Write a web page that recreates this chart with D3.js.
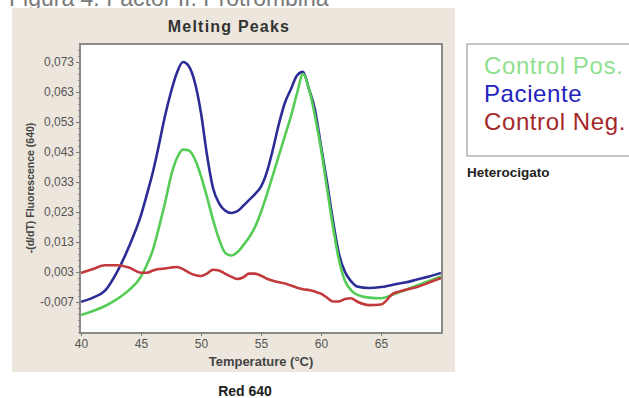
<!DOCTYPE html>
<html>
<head>
<meta charset="utf-8">
<script src="https://cdn.jsdelivr.net/npm/d3@7"></script>
<style>
  body { margin: 0; background: #fff; }
  svg { display: block; font-family: "Liberation Sans", Arial, sans-serif; }
</style>
</head>
<body>
<div id="chart"></div>
<script>
// temperatures (°C) sampled along the curves
const temps = [40, 41, 42, 43, 44, 45, 45.5, 46, 46.5, 47, 47.5, 48, 48.5, 49, 49.5, 50, 50.5, 51, 51.5, 52,
  52.5, 53, 53.5, 54, 54.5, 55, 55.5, 56, 56.5, 57, 57.5, 58, 58.5, 59, 59.5, 60, 60.5, 61, 61.5, 62,
  62.5, 63, 64, 65, 66, 67, 68, 69, 70];

const paciente = [-0.0069, -0.0055, -0.0032, 0.0030, 0.0115, 0.0220, 0.0290, 0.0365, 0.0455, 0.0550, 0.0630, 0.0695, 0.0730, 0.0715, 0.0660, 0.0560, 0.0420, 0.0310, 0.0260, 0.0235,
  0.0227, 0.0232, 0.0250, 0.0270, 0.0290, 0.0315, 0.0365, 0.0440, 0.0525, 0.0595, 0.0640, 0.0685, 0.0697, 0.0640, 0.0570, 0.0450, 0.0330, 0.0200, 0.0090, 0.0030,
  0.0000, -0.0018, -0.0023, -0.0020, -0.0012, -0.0005, 0.0005, 0.0015, 0.0027];

const controlPos = [-0.0113, -0.0100, -0.0083, -0.0060, -0.0030, 0.0015, 0.0055, 0.0105, 0.0180, 0.0260, 0.0350, 0.0410, 0.0438, 0.0435, 0.0405, 0.0350, 0.0280, 0.0205, 0.0140, 0.0095,
  0.0085, 0.0095, 0.0118, 0.0145, 0.0180, 0.0230, 0.0290, 0.0355, 0.0420, 0.0485, 0.0550, 0.0625, 0.0690, 0.0640, 0.0550, 0.0440, 0.0310, 0.0180, 0.0070, 0.0000,
  -0.0030, -0.0045, -0.0055, -0.0057, -0.0045, -0.0030, -0.0015, 0.0000, 0.0015];

const controlNeg = [0.0027, 0.0040, 0.0053, 0.0053, 0.0045, 0.0028, 0.0028, 0.0035, 0.0040, 0.0042, 0.0045, 0.0047, 0.0040, 0.0028, 0.0020, 0.0017, 0.0025, 0.0038, 0.0035, 0.0025,
  0.0015, 0.0007, 0.0012, 0.0025, 0.0025, 0.0018, 0.0008, 0.0001, -0.0004, -0.0008, -0.0015, -0.0022, -0.0027, -0.0030, -0.0035, -0.0042, -0.0055, -0.0068, -0.0068, -0.0060,
  -0.0057, -0.0068, -0.0080, -0.0078, -0.0042, -0.0030, -0.0020, -0.0005, 0.0010];

const xTicks = [40, 45, 50, 55, 60, 65];
const yTicks = [0.073, 0.063, 0.053, 0.043, 0.033, 0.023, 0.013, 0.003, -0.007];

const legendNames = ["Control Pos.", "Paciente", "Control Neg."];

const W = 629, H = 398;
const plot = { left: 80, right: 442, top: 44, bottom: 333 };

const svg = d3.select("#chart").append("svg")
  .attr("width", W)
  .attr("height", H);

// caption cut at the top of the picture
svg.append("text")
  .attr("x", 9)
  .attr("y", 6)
  .style("font-size", "23px")
  .style("fill", "#7a7a7a")
  .text("Figura 4. Factor II: Protrombina");

// beige panel
svg.append("rect")
  .attr("x", 12).attr("y", 8)
  .attr("width", 443).attr("height", 364)
  .attr("fill", "#ece6dc");

// title
svg.append("text")
  .attr("x", 229)
  .attr("y", 32)
  .attr("text-anchor", "middle")
  .style("font-size", "16px")
  .style("font-weight", "bold")
  .style("letter-spacing", "1.2px")
  .style("fill", "#333")
  .text("Melting Peaks");

// plot area
svg.append("rect")
  .attr("x", plot.left).attr("y", plot.top)
  .attr("width", plot.right - plot.left)
  .attr("height", plot.bottom - plot.top)
  .attr("fill", "#fff")
  .attr("stroke", "#8a8a8a")
  .attr("stroke-width", 2);

const x = d3.scaleLinear().domain([40, 70]).range([81, 441]);
const y = d3.scaleLinear().domain([-0.0173, 0.079]).range([plot.bottom, plot.top]);

const fmt = v => d3.format(".3f")(v).replace(".", ",").replace("−", "-");

// y axis with minor ticks
const yMinor = d3.range(-0.017, 0.079, 0.002);
svg.append("g")
  .attr("transform", `translate(${plot.left},0)`)
  .call(d3.axisLeft(y).tickValues(yMinor).tickSize(2).tickFormat(""))
  .call(g => g.select(".domain").remove())
  .call(g => g.selectAll("line").attr("stroke", "#888"));

svg.append("g")
  .attr("transform", `translate(${plot.left},0)`)
  .call(d3.axisLeft(y).tickValues(yTicks).tickSize(4).tickPadding(2).tickFormat(fmt))
  .call(g => g.select(".domain").remove())
  .call(g => g.selectAll("line").attr("stroke", "#777"))
  .call(g => g.selectAll("text").style("font-size", "12px").style("fill", "#555")
    .style("font-family", "'Liberation Sans', Arial, sans-serif"));

// x axis
svg.append("g")
  .attr("transform", `translate(0,${plot.bottom})`)
  .call(d3.axisBottom(x).tickValues(xTicks).tickSize(3).tickPadding(3))
  .call(g => g.select(".domain").remove())
  .call(g => g.selectAll("line").attr("stroke", "#777"))
  .call(g => g.selectAll("text").style("font-size", "12px").style("fill", "#555")
    .style("font-family", "'Liberation Sans', Arial, sans-serif"));

// axis titles
svg.append("text")
  .attr("x", 261)
  .attr("y", 366)
  .attr("text-anchor", "middle")
  .style("font-size", "13px")
  .style("font-weight", "bold")
  .style("fill", "#444")
  .text("Temperature (°C)");

svg.append("text")
  .attr("transform", "translate(34,188) rotate(-90)")
  .attr("text-anchor", "middle")
  .style("font-size", "10.5px")
  .style("font-weight", "bold")
  .style("fill", "#444")
  .text("-(d/dT) Fluorescence (640)");

// curves
const line = d3.line()
  .x(d => x(d[0]))
  .y(d => y(d[1]))
  .curve(d3.curveMonotoneX);

const series = [
  { values: paciente, color: "#2c2c96" },
  { values: controlPos, color: "#55cc55" },
  { values: controlNeg, color: "#c23a3c" }
];

svg.append("clipPath").attr("id", "clip")
  .append("rect")
  .attr("x", plot.left + 1).attr("y", plot.top + 1)
  .attr("width", plot.right - plot.left - 2)
  .attr("height", plot.bottom - plot.top - 2);

svg.append("g")
  .attr("clip-path", "url(#clip)")
  .selectAll("path")
  .data(series)
  .enter().append("path")
  .attr("d", s => line(temps.map((t, i) => [t, s.values[i]])))
  .attr("fill", "none")
  .attr("stroke", s => s.color)
  .attr("stroke-width", 2.6)
  .attr("stroke-linejoin", "round");

// legend box
svg.append("rect")
  .attr("x", 467).attr("y", 44)
  .attr("width", 170).attr("height", 112)
  .attr("fill", "#fff")
  .attr("stroke", "#8a8a8a")
  .attr("stroke-width", 1);

const legendColors = ["#8fdf8f", "#2323bd", "#a52828"];
svg.selectAll(".legend-item")
  .data(legendNames)
  .enter().append("text")
  .attr("class", "legend-item")
  .attr("x", 484)
  .attr("y", (d, i) => 74 + i * 28)
  .style("font-size", "24px")
  .style("letter-spacing", "0.6px")
  .style("fill", (d, i) => legendColors[i])
  .text(d => d);

svg.append("text")
  .attr("x", 467)
  .attr("y", 177)
  .style("font-size", "13.5px")
  .style("font-weight", "bold")
  .style("fill", "#222")
  .text("Heterocigato");

svg.append("text")
  .attr("x", 245)
  .attr("y", 396)
  .attr("text-anchor", "middle")
  .style("font-size", "14px")
  .style("font-weight", "bold")
  .style("fill", "#222")
  .text("Red 640");
</script>
</body>
</html>
